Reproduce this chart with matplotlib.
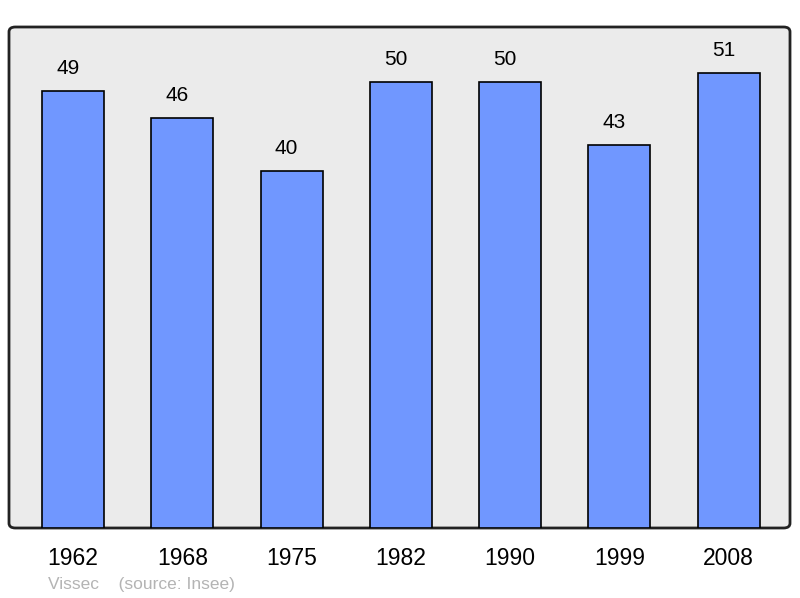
import matplotlib.pyplot as plt
from matplotlib.patches import FancyBboxPatch

years = ['1962', '1968', '1975', '1982', '1990', '1999', '2008']
population = [49, 46, 40, 50, 50, 43, 51]

plt.rcParams['font.family'] = ['Liberation Sans', 'DejaVu Sans']

fig = plt.figure(figsize=(8, 5.98), dpi=100)
ax = fig.add_axes([9 / 800, 70 / 598, 781 / 800, 501 / 598])
ax.set_facecolor('none')
ax.set_zorder(2)

# rounded frame behind the bars
frame = FancyBboxPatch((9 / 800, 70 / 598), 781 / 800, 501 / 598,
                       boxstyle='round,pad=0,rounding_size=0.008',
                       transform=fig.transFigure, facecolor='#ebebeb',
                       edgecolor='#222222', linewidth=2, zorder=-1)
fig.patches.append(frame)

x = range(len(years))
ax.bar(x, population, width=0.567, color='#7097ff', edgecolor='black',
       linewidth=1.2, zorder=2)
for i, v in enumerate(population):
    ax.text(i - 0.045, v + 1.45, str(v), ha='center', va='bottom', fontsize=15)

ax.set_xlim(-0.585, 6.56)
ax.set_ylim(0, 56.2)
ax.set_yticks([])
ax.set_xticks(list(x))
ax.set_xticklabels(years, fontsize=16.5)
ax.tick_params(axis='x', length=0, pad=14)
for s in ax.spines.values():
    s.set_visible(False)

fig.text(48 / 800, 1 - 584 / 598, 'Vissec    (source: Insee)', color='#b4b4b4',
         fontsize=12.5, va='center', ha='left')

fig.savefig('out.png', dpi=100)
